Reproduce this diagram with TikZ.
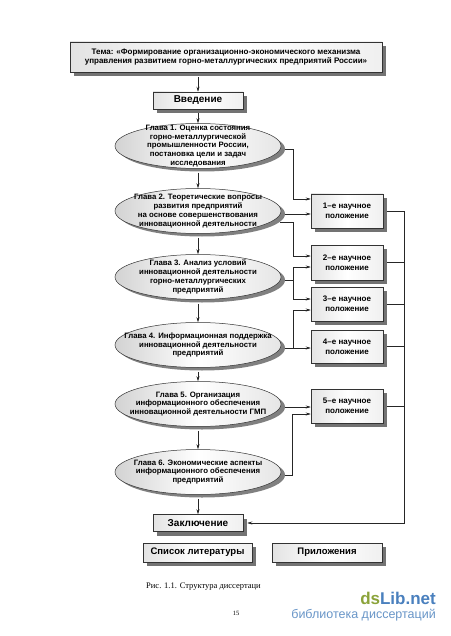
\documentclass[tikz,border=0pt]{standalone}
\usepackage{fontspec}
\setmainfont{Liberation Sans}
\newfontfamily\capfont{Liberation Serif}
\usetikzlibrary{shapes.geometric,shadows,arrows.meta,calc}
\definecolor{dsgreen}{RGB}{139,163,58}
\definecolor{dsblue}{RGB}{74,128,190}
\definecolor{dslight}{RGB}{105,150,200}
\begin{document}
\begin{tikzpicture}[x=1pt,y=1pt,
  shd/.style={drop shadow={shadow xshift=4pt,shadow yshift=-4pt,fill=black!55,opacity=1}},
  boxbase/.style={draw=black!80,line width=0.5pt,rectangle,inner sep=0pt,align=center,
    left color=gray!22,right color=gray!12,middle color=white,shd},
  topicbox/.style={boxbase,font=\bfseries\fontsize{8}{9.8}\selectfont},
  bigbox/.style={boxbase,font=\bfseries\fontsize{10}{12}\selectfont},
  resbox/.style={boxbase,minimum width=72pt,minimum height=34pt,font=\bfseries\fontsize{8}{9.8}\selectfont},
  ell/.style={ellipse,draw=black!80,line width=0.5pt,minimum width=166pt,minimum height=45pt,inner sep=0pt,
    left color=gray!35,right color=gray!20,middle color=white,
    drop shadow={shadow xshift=4pt,shadow yshift=-3pt,fill=black!50,opacity=1}},
  elltext/.style={align=center,inner sep=0pt,font=\bfseries\fontsize{7.8}{8.75}\selectfont},
  conn/.style={line width=0.5pt,draw=black!85},
  arr/.style={conn,-{Stealth[length=5pt,width=3pt]}}
]
\fill[white] (0,0) rectangle (450,-636);
\useasboundingbox (0,0) rectangle (450,-636);

% main column
\node[topicbox,minimum width=312pt,minimum height=30pt] (title) at (226,-57)
  {Тема: «Формирование организационно-экономического механизма\\управления развитием горно-металлургических предприятий России»};
\node[bigbox,minimum width=90pt,minimum height=17pt] (vved) at (198,-100.5) {Введение};

\node[ell] (E1) at (198,-146) {};
\node[elltext] (T1) at (E1) {Глава 1. Оценка состояния\\горно-металлургической\\промышленности России,\\постановка цели и задач\\исследования};
\node[ell] (E2) at (198,-211) {};
\node[elltext] (T2) at (E2) {Глава 2. Теоретические вопросы\\развития предприятий\\на основе совершенствования\\инновационной деятельности};
\node[ell] (E3) at (198,-277) {};
\node[elltext] (T3) at (E3) {Глава 3. Анализ условий\\инновационной деятельности\\горно-металлургических\\предприятий};
\node[ell] (E4) at (198,-345) {};
\node[elltext] (T4) at (E4) {Глава 4. Информационная поддержка\\инновационной деятельности\\предприятий};
\node[ell] (E5) at (198,-404) {};
\node[elltext] (T5) at (E5) {Глава 5. Организация\\информационного обеспечения\\инновационной деятельности ГМП};
\node[ell] (E6) at (198,-472) {};
\node[elltext] (T6) at (E6) {Глава 6. Экономические аспекты\\информационного обеспечения\\предприятий};

\node[bigbox,minimum width=90pt,minimum height=17pt] (zakl) at (198,-523) {Заключение};
\node[bigbox,minimum width=109pt,minimum height=19pt,font=\bfseries\fontsize{9.5}{11}\selectfont] (lit) at (197.5,-552.5) {Список литературы};
\node[bigbox,minimum width=110pt,minimum height=19pt,font=\bfseries\fontsize{9.5}{11}\selectfont] (pril) at (327,-552.5) {Приложения};

% result boxes
\node[resbox] (B1) at (347,-211) {1–е научное\\положение};
\node[resbox,minimum height=35pt] (B2) at (347,-262.5) {2–е научное\\положение};
\node[resbox] (B3) at (347,-304) {3–е научное\\положение};
\node[resbox,minimum height=33pt] (B4) at (347,-346.5) {4–е научное\\положение};
\node[resbox] (B5) at (347,-406) {5–е научное\\положение};

% vertical chain
\draw[arr] ($(vved.north |- title.south)+(0,-5)$) -- (vved.north);
\draw[arr] ([yshift=-4pt]vved.south) -- (E1.north);
\draw[arr] ([yshift=-4pt]E1.south) -- (E2.north);
\draw[arr] ([yshift=-4pt]E2.south) -- (E3.north);
\draw[arr] ([yshift=-4pt]E3.south) -- (E4.north);
\draw[arr] ([yshift=-4pt]E4.south) -- (E5.north);
\draw[arr] ([yshift=-4pt]E5.south) -- (E6.north);
\draw[arr] ([yshift=-4pt]E6.south) -- (zakl.north);

% chapters to results
\draw[arr] ([shift={(4,-3)}]E1.east) -| ([shift={(-18,12)}]B1.west) -- ([yshift=12pt]B1.west);
\draw[arr] ([shift={(4,-3)}]E2.east) -- ([yshift=-3pt]B1.west);
\draw[arr] ([shift={(-1,-11)}]E2.east) -| ([shift={(-18,6.5)}]B2.west) -- ([yshift=6.5pt]B2.west);
\draw[arr] ([shift={(4,-3)}]E3.east) -| ([shift={(-18,-4.5)}]B2.west) -- ([yshift=-4.5pt]B2.west);
\draw[arr] ([shift={(4,-3)}]E3.east) -| ([shift={(-18,5)}]B3.west) -- ([yshift=5pt]B3.west);
\draw[arr] ([shift={(4,-3)}]E4.east) -| ([shift={(-18,-6)}]B3.west) -- ([yshift=-6pt]B3.west);
\draw[arr] ([shift={(4,-3)}]E4.east) -- ([yshift=-1.5pt]B4.west);
\draw[arr] ([shift={(4,-3)}]E5.east) -- ([yshift=-1pt]B5.west);
\draw[arr] ([shift={(4,-3)}]E6.east) -| ([shift={(-19,-8)}]B5.west) -- ([yshift=-8pt]B5.west);

% results to conclusion
\coordinate (rc) at (404,-523);
\draw[arr] ([xshift=4pt]B1.east) -| (rc) -- ([xshift=4pt]zakl.east);
\draw[conn] ([xshift=4pt]B2.east) -- (B2.east -| rc);
\draw[conn] ([xshift=4pt]B3.east) -- (B3.east -| rc);
\draw[conn] ([xshift=4pt]B4.east) -- (B4.east -| rc);
\draw[conn] ([xshift=4pt]B5.east) -- (B5.east -| rc);

% caption and page
\node[anchor=west,inner sep=0pt,font=\capfont\fontsize{8.5}{10}\selectfont] (cap) at (146,-587) {Рис. 1.1. Структура диссертаци};
\node[inner sep=0pt,font=\capfont\fontsize{6.5}{8}\selectfont] (pg) at (236,-613) {15};
\node[anchor=east,inner sep=0pt,font=\bfseries\fontsize{17}{18}\selectfont] (wm) at (436,-598) {\textcolor{dsgreen}{ds}\textcolor{dsblue}{Lib.net}};
\node[anchor=east,inner sep=0pt,text=dslight,font=\fontsize{12.5}{14}\selectfont] (wm2) at (436,-615) {библиотека диссертаций};
\end{tikzpicture}
\end{document}
